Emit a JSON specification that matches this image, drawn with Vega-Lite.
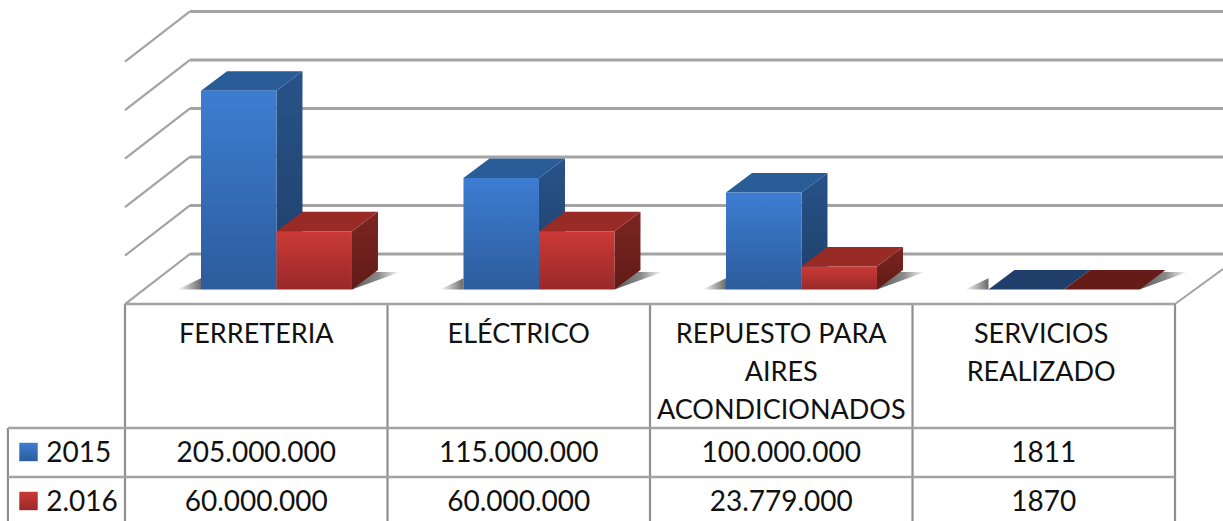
{"$schema":"https://vega.github.io/schema/vega-lite/v6.json","width":1223,"height":521,"autosize":{"type":"none"},"padding":0,"background":"#ffffff","config":{"view":{"stroke":null}},
"datasets":{
"sales":[
{"category":"FERRETERIA","series":"2015","value":205000000,"label":"205.000.000"},
{"category":"ELÉCTRICO","series":"2015","value":115000000,"label":"115.000.000"},
{"category":"REPUESTO PARA AIRES ACONDICIONADOS","series":"2015","value":100000000,"label":"100.000.000"},
{"category":"SERVICIOS REALIZADO","series":"2015","value":1811,"label":"1811"},
{"category":"FERRETERIA","series":"2.016","value":60000000,"label":"60.000.000"},
{"category":"ELÉCTRICO","series":"2.016","value":60000000,"label":"60.000.000"},
{"category":"REPUESTO PARA AIRES ACONDICIONADOS","series":"2.016","value":23779000,"label":"23.779.000"},
{"category":"SERVICIOS REALIZADO","series":"2.016","value":1870,"label":"1870"}],
"grid":[{"level":0},{"level":50},{"level":100},{"level":150},{"level":200},{"level":250}],
"headers":[
{"cell":0.5,"slot":1,"text":"FERRETERIA"},
{"cell":1.5,"slot":1,"text":"ELÉCTRICO"},
{"cell":2.5,"slot":1,"text":"REPUESTO PARA"},
{"cell":2.5,"slot":2,"text":"AIRES"},
{"cell":2.5,"slot":3,"text":"ACONDICIONADOS"},
{"cell":3.49,"slot":1,"text":"SERVICIOS"},
{"cell":3.49,"slot":2,"text":"REALIZADO"}],
"seriesRows":[{"series":"2015","slot":5},{"series":"2.016","slot":7}],
"tableV":[{"edge":-0.446,"from":4,"to":8},{"edge":0,"from":0,"to":8},{"edge":1,"from":0,"to":8},{"edge":2,"from":0,"to":8},{"edge":3,"from":0,"to":8},{"edge":4,"from":0,"to":8}],
"tableH":[{"start":0,"end":4,"slot":0},{"start":-0.446,"end":4,"slot":4},{"start":-0.446,"end":4,"slot":6}]
},
"resolve":{"scale":{"y":"independent"}},
"layer":[
{"data":{"name":"grid"},"mark":{"type":"rule","stroke":"#a3a3a3","strokeWidth":2.8},"transform":[{"calculate":"datum.level+36.6","as":"back"}],
"encoding":{"x":{"datum":0.2476,"type":"quantitative","scale":{"domain":[-0.47619,4.18286],"nice":false,"zero":false},"axis":null},"x2":{"datum":4.18286},"y":{"field":"back","type":"quantitative","scale":{"domain":[-238.66,298.45],"nice":false,"zero":false},"axis":null}}},
{"data":{"name":"grid"},"mark":{"type":"line","stroke":"#a3a3a3","strokeWidth":2.2},"transform":[{"calculate":"[0,1]","as":"corner"},{"flatten":["corner"]},{"calculate":"0.2476*datum.corner","as":"gx"},{"calculate":"datum.level-15+51.6*datum.corner","as":"gy"}],
"encoding":{"x":{"field":"gx","type":"quantitative","axis":null},"y":{"field":"gy","type":"quantitative","scale":{"domain":[-238.66,298.45],"nice":false,"zero":false},"axis":null},"detail":{"field":"level"}}},
{"data":{"values":[{"edge":"right"}]},"mark":{"type":"line","stroke":"#a3a3a3","strokeWidth":2},"transform":[{"calculate":"[0,1]","as":"corner"},{"flatten":["corner"]},{"calculate":"4+0.18286*datum.corner","as":"gx"},{"calculate":"-15+36*datum.corner","as":"gy"}],
"encoding":{"x":{"field":"gx","type":"quantitative","axis":null},"y":{"field":"gy","type":"quantitative","scale":{"domain":[-238.66,298.45],"nice":false,"zero":false},"axis":null}}},
{"data":{"name":"sales"},"mark":{"type":"area","orient":"vertical","fill":{"gradient":"linear","x1":0,"y1":0,"x2":1,"y2":0,"stops":[{"offset":0,"color":"#ffffff"},{"offset":1,"color":"#6a6a6a"}]}},
"transform":[{"filter":"datum.series=='2015'"},{"calculate":"indexof(['FERRETERIA','ELÉCTRICO','REPUESTO PARA AIRES ACONDICIONADOS','SERVICIOS REALIZADO'],datum.category)+0.2895","as":"x0"},{"calculate":"[0,1]","as":"corner"},{"flatten":["corner"]},{"calculate":"datum.x0-0.09+0.09*datum.corner","as":"sx"},{"calculate":"0","as":"lo"},{"calculate":"11.5*datum.corner","as":"hi"}],
"encoding":{"x":{"field":"sx","type":"quantitative","axis":null},"y":{"field":"lo","type":"quantitative","scale":{"domain":[-238.66,298.45],"nice":false,"zero":false},"axis":null},"y2":{"field":"hi"},"detail":{"field":"category"}}},
{"data":{"name":"sales"},"mark":{"type":"area","orient":"vertical","fill":{"gradient":"linear","x1":0,"y1":0,"x2":1,"y2":0,"stops":[{"offset":0,"color":"#5a5a5a"},{"offset":0.55,"color":"#8a8a8a"},{"offset":1,"color":"#ffffff"}]}},
"transform":[{"filter":"datum.series=='2.016'"},{"calculate":"indexof(['FERRETERIA','ELÉCTRICO','REPUESTO PARA AIRES ACONDICIONADOS','SERVICIOS REALIZADO'],datum.category)+0.2895+0.2876","as":"x0"},{"calculate":"[0,1]","as":"corner"},{"flatten":["corner"]},{"calculate":"datum.x0+0.2876+0.183*datum.corner","as":"sx"},{"calculate":"18*datum.corner","as":"lo"},{"calculate":"18","as":"hi"}],
"encoding":{"x":{"field":"sx","type":"quantitative","axis":null},"y":{"field":"lo","type":"quantitative","scale":{"domain":[-238.66,298.45],"nice":false,"zero":false},"axis":null},"y2":{"field":"hi"},"detail":{"field":"category"}}},
{"data":{"name":"sales"},"mark":{"type":"area","orient":"vertical","fill":{"gradient":"linear","x1":0,"y1":0,"x2":0,"y2":1,"stops":[{"offset":0,"color":"#285389"},{"offset":1,"color":"#1f3e69"}]}},
"transform":[{"filter":"datum.series=='2015'"},{"calculate":"indexof(['FERRETERIA','ELÉCTRICO','REPUESTO PARA AIRES ACONDICIONADOS','SERVICIOS REALIZADO'],datum.category)+0.2895","as":"x0"},{"calculate":"[0,1]","as":"corner"},{"flatten":["corner"]},{"calculate":"datum.x0+0.2876+0.099*datum.corner","as":"sx"},{"calculate":"20.1*datum.corner","as":"lo"},{"calculate":"datum.value/1000000+20.1*datum.corner","as":"hi"}],
"encoding":{"x":{"field":"sx","type":"quantitative","axis":null},"y":{"field":"lo","type":"quantitative","scale":{"domain":[-238.66,298.45],"nice":false,"zero":false},"axis":null},"y2":{"field":"hi"},"detail":{"field":"category"}}},
{"data":{"name":"sales"},"mark":{"type":"area","orient":"vertical"},
"transform":[{"filter":"datum.series=='2015'"},{"calculate":"indexof(['FERRETERIA','ELÉCTRICO','REPUESTO PARA AIRES ACONDICIONADOS','SERVICIOS REALIZADO'],datum.category)+0.2895","as":"x0"},{"calculate":"[0,1,2,3]","as":"corner"},{"flatten":["corner"]},{"calculate":"datum.x0+[0,0.099,0.2876,0.3866][datum.corner]","as":"sx"},{"calculate":"datum.value/1000000+20.1*max(0,datum.corner-2)","as":"lo"},{"calculate":"datum.value/1000000+20.1*min(datum.corner,1)","as":"hi"}],
"encoding":{"x":{"field":"sx","type":"quantitative","axis":null},"y":{"field":"lo","type":"quantitative","scale":{"domain":[-238.66,298.45],"nice":false,"zero":false},"axis":null},"y2":{"field":"hi"},"detail":{"field":"category"},"color":{"condition":{"test":"datum.value<10000","value":"#1f3e69"},"value":"#2a5c98"}}},
{"data":{"name":"sales"},"mark":{"type":"rect","fill":{"gradient":"linear","x1":0,"y1":0,"x2":0,"y2":1,"stops":[{"offset":0,"color":"#3d7dd2"},{"offset":1,"color":"#2c5c9c"}]}},
"transform":[{"filter":"datum.series=='2015'"},{"calculate":"indexof(['FERRETERIA','ELÉCTRICO','REPUESTO PARA AIRES ACONDICIONADOS','SERVICIOS REALIZADO'],datum.category)+0.2895","as":"x0"},{"calculate":"datum.x0+0.2876","as":"x1"},{"calculate":"datum.value/1000000","as":"v"},{"calculate":"0","as":"base"}],
"encoding":{"x":{"field":"x0","type":"quantitative","axis":null},"x2":{"field":"x1"},"y":{"field":"v","type":"quantitative","scale":{"domain":[-238.66,298.45],"nice":false,"zero":false},"axis":null},"y2":{"field":"base"}}},
{"data":{"name":"sales"},"mark":{"type":"area","orient":"vertical","fill":{"gradient":"linear","x1":0,"y1":0,"x2":0,"y2":1,"stops":[{"offset":0,"color":"#7c2522"},{"offset":1,"color":"#601b17"}]}},
"transform":[{"filter":"datum.series=='2.016'"},{"calculate":"indexof(['FERRETERIA','ELÉCTRICO','REPUESTO PARA AIRES ACONDICIONADOS','SERVICIOS REALIZADO'],datum.category)+0.2895+0.2876","as":"x0"},{"calculate":"[0,1]","as":"corner"},{"flatten":["corner"]},{"calculate":"datum.x0+0.2876+0.099*datum.corner","as":"sx"},{"calculate":"20.1*datum.corner","as":"lo"},{"calculate":"datum.value/1000000+20.1*datum.corner","as":"hi"}],
"encoding":{"x":{"field":"sx","type":"quantitative","axis":null},"y":{"field":"lo","type":"quantitative","scale":{"domain":[-238.66,298.45],"nice":false,"zero":false},"axis":null},"y2":{"field":"hi"},"detail":{"field":"category"}}},
{"data":{"name":"sales"},"mark":{"type":"area","orient":"vertical"},
"transform":[{"filter":"datum.series=='2.016'"},{"calculate":"indexof(['FERRETERIA','ELÉCTRICO','REPUESTO PARA AIRES ACONDICIONADOS','SERVICIOS REALIZADO'],datum.category)+0.2895+0.2876","as":"x0"},{"calculate":"[0,1,2,3]","as":"corner"},{"flatten":["corner"]},{"calculate":"datum.x0+[0,0.099,0.2876,0.3866][datum.corner]","as":"sx"},{"calculate":"datum.value/1000000+20.1*max(0,datum.corner-2)","as":"lo"},{"calculate":"datum.value/1000000+20.1*min(datum.corner,1)","as":"hi"}],
"encoding":{"x":{"field":"sx","type":"quantitative","axis":null},"y":{"field":"lo","type":"quantitative","scale":{"domain":[-238.66,298.45],"nice":false,"zero":false},"axis":null},"y2":{"field":"hi"},"detail":{"field":"category"},"color":{"condition":{"test":"datum.value<10000","value":"#651c18"},"value":"#992b27"}}},
{"data":{"name":"sales"},"mark":{"type":"rect","fill":{"gradient":"linear","x1":0,"y1":0,"x2":0,"y2":1,"stops":[{"offset":0,"color":"#cb3a36"},{"offset":1,"color":"#99292a"}]}},
"transform":[{"filter":"datum.series=='2.016'"},{"calculate":"indexof(['FERRETERIA','ELÉCTRICO','REPUESTO PARA AIRES ACONDICIONADOS','SERVICIOS REALIZADO'],datum.category)+0.2895+0.2876","as":"x0"},{"calculate":"datum.x0+0.2876","as":"x1"},{"calculate":"datum.value/1000000","as":"v"},{"calculate":"0","as":"base"}],
"encoding":{"x":{"field":"x0","type":"quantitative","axis":null},"x2":{"field":"x1"},"y":{"field":"v","type":"quantitative","scale":{"domain":[-238.66,298.45],"nice":false,"zero":false},"axis":null},"y2":{"field":"base"}}},
{"data":{"name":"tableV"},"mark":{"type":"rule","stroke":"#8f8f8f","strokeWidth":2.2},
"encoding":{"x":{"field":"edge","type":"quantitative","axis":null},"y":{"field":"from","type":"quantitative","scale":{"domain":[0,1,2,3,4,5,6,7,8],"range":[304,333,371,409,428,452,477,501,521]},"axis":null},"y2":{"field":"to"}}},
{"data":{"name":"tableH"},"mark":{"type":"rule","stroke":"#a3a3a3","strokeWidth":2.5},
"encoding":{"x":{"field":"start","type":"quantitative","axis":null},"x2":{"field":"end"},"y":{"field":"slot","type":"quantitative","scale":{"domain":[0,1,2,3,4,5,6,7,8],"range":[304,333,371,409,428,452,477,501,521]},"axis":null}}},
{"data":{"name":"headers"},"mark":{"type":"text","font":"Lato","fontSize":27,"align":"center","baseline":"middle","color":"#111111","dy":2},
"encoding":{"x":{"field":"cell","type":"quantitative","axis":null},"y":{"field":"slot","type":"quantitative","scale":{"domain":[0,1,2,3,4,5,6,7,8],"range":[304,333,371,409,428,452,477,501,521]},"axis":null},"text":{"field":"text"}}},
{"data":{"name":"sales"},"mark":{"type":"text","font":"Lato","fontSize":28,"align":"center","baseline":"middle","color":"#111111","dy":2},
"transform":[{"calculate":"indexof(['FERRETERIA','ELÉCTRICO','REPUESTO PARA AIRES ACONDICIONADOS','SERVICIOS REALIZADO'],datum.category)+0.5","as":"cell"},{"calculate":"datum.series=='2015'?5:7","as":"slot"}],
"encoding":{"x":{"field":"cell","type":"quantitative","axis":null},"y":{"field":"slot","type":"quantitative","scale":{"domain":[0,1,2,3,4,5,6,7,8],"range":[304,333,371,409,428,452,477,501,521]},"axis":null},"text":{"field":"label"}}},
{"data":{"name":"seriesRows"},"mark":{"type":"text","font":"Lato","fontSize":28,"align":"left","baseline":"middle","color":"#111111","dy":2},
"encoding":{"x":{"datum":-0.3,"type":"quantitative","axis":null},"y":{"field":"slot","type":"quantitative","scale":{"domain":[0,1,2,3,4,5,6,7,8],"range":[304,333,371,409,428,452,477,501,521]},"axis":null},"text":{"field":"series"}}},
{"data":{"name":"seriesRows"},"transform":[{"filter":"datum.series=='2015'"}],"mark":{"type":"point","shape":"square","filled":true,"size":340,"opacity":1,"fill":{"gradient":"linear","x1":0,"y1":0,"x2":0,"y2":1,"stops":[{"offset":0,"color":"#3d7dd2"},{"offset":1,"color":"#2c5c9c"}]}},
"encoding":{"x":{"datum":-0.3676,"type":"quantitative","axis":null},"y":{"field":"slot","type":"quantitative","scale":{"domain":[0,1,2,3,4,5,6,7,8],"range":[304,333,371,409,428,452,477,501,521]},"axis":null}}},
{"data":{"name":"seriesRows"},"transform":[{"filter":"datum.series=='2.016'"}],"mark":{"type":"point","shape":"square","filled":true,"size":340,"opacity":1,"fill":{"gradient":"linear","x1":0,"y1":0,"x2":0,"y2":1,"stops":[{"offset":0,"color":"#cb3a36"},{"offset":1,"color":"#99292a"}]}},
"encoding":{"x":{"datum":-0.3676,"type":"quantitative","axis":null},"y":{"field":"slot","type":"quantitative","scale":{"domain":[0,1,2,3,4,5,6,7,8],"range":[304,333,371,409,428,452,477,501,521]},"axis":null}}}
]}
